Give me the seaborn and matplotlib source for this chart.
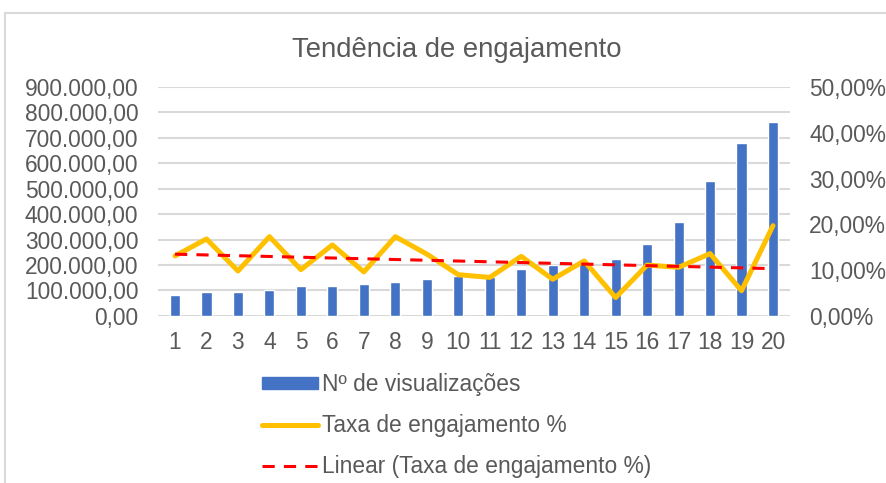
import matplotlib.pyplot as plt
import numpy as np
import pandas as pd
import seaborn as sns
from matplotlib.ticker import FuncFormatter, MultipleLocator
from matplotlib.patches import Patch, Rectangle
from matplotlib.lines import Line2D

# data
dias = list(range(1, 21))
visualizacoes = [84000, 93000, 93000, 101000, 117000, 117000, 125000, 133000, 146000, 157000,
                 151000, 186000, 200000, 210000, 223000, 282000, 371000, 531000, 680000, 761000]
taxa_engajamento = [13.1, 16.8, 9.8, 17.3, 10.1, 15.5, 9.6, 17.3, 13.5, 9.0,
                    8.4, 13.0, 8.0, 12.0, 4.0, 11.1, 10.6, 13.6, 5.5, 19.7]

titulo = "Tendência de engajamento"
nome_barras = "Nº de visualizações"
nome_linha = "Taxa de engajamento %"
nome_tendencia = "Linear (Taxa de engajamento %)"

df = pd.DataFrame({"dia": dias, "views": visualizacoes, "taxa": taxa_engajamento})

BLUE = "#4472C4"
GOLD = "#FFC000"
RED = "#FF0000"
GRID = "#D9D9D9"
TXT = "#595959"
FS = 16.4
DASH = (0, (4, 3))

sns.set_theme(style="white")
plt.rcParams['font.family'] = ['Liberation Sans', 'DejaVu Sans']

fig = plt.figure(figsize=(8.86, 4.83), dpi=100)
ax = fig.add_axes([0.178, 0.346, 0.714, 0.474])

sns.barplot(data=df, x="dia", y="views", native_scale=True, width=0.32,
            color=BLUE, saturation=1, ax=ax, zorder=2)
ax.set_ylim(0, 900000)
ax.set_xlim(0.45, 20.55)
ax.yaxis.set_major_locator(MultipleLocator(100000))
ax.yaxis.set_major_formatter(FuncFormatter(
    lambda v, p: f"{v:,.2f}".replace(",", "X").replace(".", ",").replace("X", ".")))
ax.set_xticks(dias)
ax.grid(axis="y", color=GRID, linewidth=1.5, zorder=0)
ax.set_axisbelow(True)
for s in ax.spines.values():
    s.set_visible(False)
ax.set_xlabel("")
ax.set_ylabel("")
ax.tick_params(axis="y", length=0, pad=14, labelsize=FS, colors=TXT)
ax.tick_params(axis="x", length=0, pad=11, labelsize=FS, colors=TXT)

ax2 = ax.twinx()
sns.lineplot(data=df, x="dia", y="taxa", color=GOLD, linewidth=3.6, ax=ax2, zorder=3)
# Excel-style linear trendline
sns.regplot(data=df, x="dia", y="taxa", scatter=False, ci=None, truncate=True, ax=ax2,
            line_kws=dict(color=RED, linewidth=2.2, linestyle=DASH, zorder=4))
ax2.set_ylim(0, 50)
ax2.set_xlim(0.45, 20.55)
ax2.yaxis.set_major_locator(MultipleLocator(10))
ax2.yaxis.set_major_formatter(FuncFormatter(lambda v, p: f"{v:.2f}".replace(".", ",") + "%"))
for s in ax2.spines.values():
    s.set_visible(False)
ax2.set_xlabel("")
ax2.set_ylabel("")
ax2.grid(False)
ax2.tick_params(axis="y", length=0, pad=13.5, labelsize=FS, colors=TXT)

fig.text(0.516, 0.897, titulo, ha="center", va="center", fontsize=19.8, color=TXT)

handles = [Patch(facecolor=BLUE, edgecolor=BLUE),
           Line2D([], [], color=GOLD, linewidth=3.6),
           Line2D([], [], color=RED, linewidth=2.2, linestyle=DASH)]
leg = fig.legend(handles, [nome_barras, nome_linha, nome_tendencia], loc="upper left",
                 bbox_to_anchor=(262 / 886, 1 - 373 / 483), frameon=False, fontsize=FS,
                 handlelength=2.45, handleheight=0.45, handletextpad=0.18,
                 labelspacing=0.8, borderaxespad=0, borderpad=0)
for t in leg.get_texts():
    t.set_color(TXT)

fig.patches.append(Rectangle((5 / 886, -0.1), 1.2, 1 - 13 / 483 + 0.1, transform=fig.transFigure,
                             fill=False, edgecolor=GRID, linewidth=1.5))

fig.savefig("out.png", dpi=100)
